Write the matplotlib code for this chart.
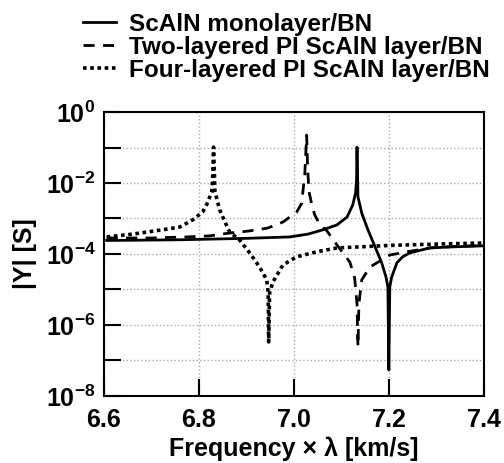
import matplotlib.pyplot as plt
import numpy as np

plt.rcParams['font.family'] = 'Liberation Sans'
plt.rcParams['mathtext.fontset'] = 'custom'
plt.rcParams['mathtext.bf'] = 'Liberation Sans:bold'
plt.rcParams['mathtext.rm'] = 'Liberation Sans:bold'

# ScAlN monolayer/BN  (x, log10|Y|)
x_mono = [6.606, 6.76, 6.90, 6.992, 7.03, 7.061, 7.091, 7.112, 7.124, 7.130,
          7.132, 7.133, 7.135, 7.143, 7.156, 7.171, 7.185, 7.194, 7.198,
          7.200, 7.202, 7.206, 7.217, 7.229, 7.244, 7.286, 7.335, 7.40]
y_mono = [-3.62, -3.60, -3.56, -3.52, -3.44, -3.32, -3.18, -2.96, -2.62, -2.28,
          -1.92, -0.99, -2.39, -2.85, -3.32, -3.80, -4.25, -4.65, -4.93,
          -7.27, -4.93, -4.65, -4.25, -4.08, -3.97, -3.83, -3.80, -3.77]

# Two-layered PI ScAlN layer/BN
x_two = [6.606, 6.697, 6.775, 6.823, 6.865, 6.907, 6.945, 6.977, 7.006, 7.017,
         7.019, 7.023, 7.025, 7.027, 7.029, 7.032, 7.038, 7.044, 7.055, 7.069,
         7.091, 7.118, 7.128, 7.133, 7.135, 7.137, 7.143, 7.160, 7.202, 7.238,
         7.286, 7.335, 7.40]
y_two = [-3.55, -3.55, -3.52, -3.49, -3.41, -3.35, -3.27, -3.10, -2.82, -2.56,
         -2.25, -1.77, -1.21, -0.65, -1.58, -2.25, -2.62, -2.90, -3.18, -3.34,
         -3.75, -4.23, -4.68, -5.4, -6.62, -5.4, -4.73, -4.37, -4.03, -3.94,
         -3.83, -3.79, -3.76]

# Four-layered PI ScAlN layer/BN
x_four = [6.606, 6.661, 6.733, 6.76, 6.787, 6.808, 6.819, 6.827, 6.829, 6.831,
          6.834, 6.844, 6.855, 6.865, 6.886, 6.907, 6.928, 6.943, 6.946, 6.947,
          6.949, 6.956, 6.977, 7.006, 7.048, 7.091, 7.139, 7.20, 7.25, 7.335,
          7.40]
y_four = [-3.52, -3.44, -3.30, -3.24, -3.04, -2.82, -2.54, -2.25, -1.92, -0.99,
          -2.25, -2.76, -3.10, -3.38, -3.61, -3.97, -4.37, -4.73, -5.1, -6.48,
          -5.1, -4.79, -4.31, -4.08, -3.94, -3.83, -3.80, -3.76, -3.74, -3.71,
          -3.69]

fig = plt.figure(figsize=(5.04, 4.63), dpi=100)
ax = fig.add_axes([0.206, 0.145, 0.754, 0.613])

l1, = ax.plot(x_mono, 10 ** np.array(y_mono), 'k-', lw=2)
l2, = ax.plot(x_two, 10 ** np.array(y_two), 'k--', lw=2, dashes=(4, 3))
l3, = ax.plot(x_four, 10 ** np.array(y_four), 'k:', lw=2.6, dashes=(1, 1))

ax.set_yscale('log')
ax.set_xlim(6.6, 7.4)
ax.set_ylim(1e-8, 1e0)
ax.set_xticks([6.6, 6.8, 7.0, 7.2, 7.4])
ax.set_xticklabels(['6.6', '6.8', '7.0', '7.2', '7.4'])
ax.set_yticks([10.0 ** k for k in range(-8, 1)])
ax.set_yticklabels([r'$\mathbf{10^{%d}}$' % k if k % 2 == 0 else '' for k in range(-8, 1)])
ax.minorticks_off()
ax.tick_params(direction='in', length=12, width=1.5, labelsize=18, pad=6,
               top=False, right=False)
ax.tick_params(axis='x', pad=9)
for lab in ax.get_xticklabels():
    lab.set_fontweight('bold')
ax.grid(True, color='#aaaaaa', linestyle=':', linewidth=1)
for s in ax.spines.values():
    s.set_linewidth(1.5)

ax.set_xlabel('Frequency × λ [km/s]', fontsize=18, fontweight='bold', labelpad=3)
ax.set_ylabel('|Y| [S]', fontsize=18, fontweight='bold', labelpad=6)

fig.legend([l1, l2, l3],
           ['ScAlN monolayer/BN', 'Two-layered PI ScAlN layer/BN',
            'Four-layered PI ScAlN layer/BN'],
           loc='upper left', bbox_to_anchor=(0.141, 0.999), frameon=False,
           prop={'weight': 'bold', 'size': 17.5},
           handlelength=1.35, handletextpad=0.55, labelspacing=0.0,
           borderaxespad=0.1)

fig.savefig('out.png', dpi=100)
